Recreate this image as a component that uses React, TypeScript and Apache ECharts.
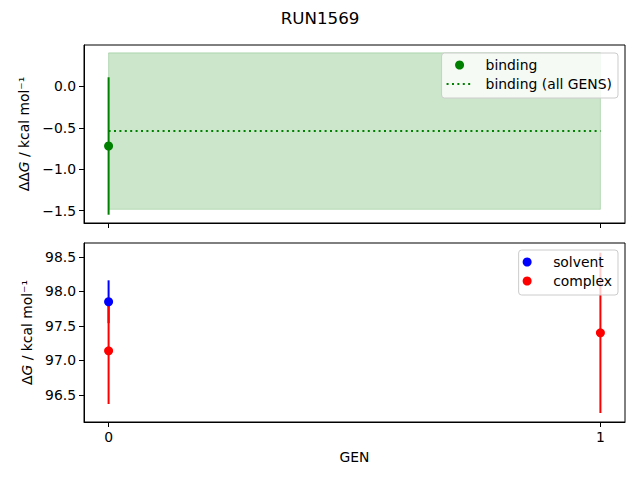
import React, { useEffect, useRef } from 'react';
import * as echarts from 'echarts';

const FONT = 'DejaVu Sans';

// x ticks (GEN)
const genTicks = [0, 1];

// top panel: binding free energy per GEN
const bindingGen = [0];
const bindingValue = [-0.72];
const bindingErr = [0.83];
// binding over all GENS (mean and uncertainty band)
const bindingAllValue = -0.54;
const bindingAllErr = 0.945;
const topTicks = [-1.5, -1.0, -0.5, 0.0];

// bottom panel: solvent and complex legs
const solventGen = [0];
const solventValue = [97.85];
const solventErr = [0.31];
const complexGen = [0, 1];
const complexValue = [97.14, 97.4];
const complexErr = [0.77, 1.16];
const bottomTicks = [96.5, 97.0, 97.5, 98.0, 98.5];

const fmt = (v: number) => v.toFixed(1).replace('-', '\u2212');

const errBar = (name: string, xIdx: number, xs: number[], ys: number[], es: number[], color: string) => ({
  name,
  type: 'custom',
  xAxisIndex: xIdx,
  yAxisIndex: xIdx,
  data: xs.map((x, i) => [x, ys[i] - es[i], ys[i] + es[i]]),
  encode: { x: 0, y: [1, 2] },
  renderItem: (_p: any, api: any) => {
    const a = api.coord([api.value(0), api.value(1)]);
    const b = api.coord([api.value(0), api.value(2)]);
    return {
      type: 'line',
      shape: { x1: a[0], y1: a[1], x2: b[0], y2: b[1] },
      style: { stroke: color, lineWidth: 2 },
    };
  },
  z: 2,
});

const dots = (name: string, xIdx: number, xs: number[], ys: number[], color: string) => ({
  name,
  type: 'scatter',
  xAxisIndex: xIdx,
  yAxisIndex: xIdx,
  data: xs.map((x, i) => [x, ys[i]]),
  symbol: 'circle',
  symbolSize: 9,
  itemStyle: { color, opacity: 1 },
  z: 4,
});

const xAxisBase = (idx: number) => ({
  type: 'value',
  gridIndex: idx,
  min: -0.05,
  max: 1.05,
  axisLine: { show: true, onZero: false, lineStyle: { color: '#000', width: 1 } },
  axisTick: { show: true, length: 5, customValues: genTicks, lineStyle: { color: '#000' } },
  axisLabel: {
    show: idx === 1,
    customValues: genTicks,
    margin: 8,
    color: '#000',
    fontSize: 13.9,
    fontFamily: FONT,
    formatter: (v: number) => String(v),
  },
  splitLine: { show: false },
});

const yAxisBase = (idx: number, min: number, max: number, ticks: number[], name: string) => ({
  type: 'value',
  gridIndex: idx,
  min,
  max,
  name,
  nameLocation: 'middle',
  nameGap: 48,
  nameTextStyle: {
    color: '#000',
    fontSize: 13.9,
    fontFamily: FONT,
    rich: { i: { fontStyle: 'italic', fontSize: 13.9, fontFamily: FONT, color: '#000' } },
  },
  axisLine: { show: true, onZero: false, lineStyle: { color: '#000', width: 1 } },
  axisTick: { show: true, length: 5, customValues: ticks, lineStyle: { color: '#000' } },
  axisLabel: {
    customValues: ticks,
    margin: 8,
    color: '#000',
    fontSize: 13.9,
    fontFamily: FONT,
    formatter: (v: number) => fmt(v),
  },
  splitLine: { show: false },
});

const legendBase = {
  orient: 'vertical',
  right: 22,
  backgroundColor: 'rgba(255,255,255,0.8)',
  borderColor: '#cccccc',
  borderWidth: 1,
  borderRadius: 3,
  padding: [5, 6, 7, 4],
  itemWidth: 26,
  itemHeight: 9,
  itemGap: 5,
  textStyle: { color: '#000', fontSize: 13.9, fontFamily: FONT, padding: [0, 0, 0, 8] },
};

const App: React.FC = () => {
  const chartRef = useRef<HTMLDivElement>(null);

  useEffect(() => {
    if (!chartRef.current) return;
    const chart = echarts.init(chartRef.current, null, { renderer: 'svg' });

    const option: any = {
      animation: false,
      backgroundColor: '#fff',
      title: {
        text: 'RUN1569',
        left: 'center',
        top: 4,
        textStyle: { color: '#000', fontSize: 16.7, fontWeight: 'normal', fontFamily: FONT },
      },
      grid: [
        { left: 84, width: 541, top: 45, height: 178, show: true, borderColor: '#000', borderWidth: 1, backgroundColor: 'transparent' },
        { left: 84, width: 541, top: 243, height: 179, show: true, borderColor: '#000', borderWidth: 1, backgroundColor: 'transparent' },
      ],
      xAxis: [
        xAxisBase(0),
        { ...xAxisBase(1), name: 'GEN', nameLocation: 'middle', nameGap: 28, nameTextStyle: { color: '#000', fontSize: 13.9, fontFamily: FONT } },
      ],
      yAxis: [
        yAxisBase(0, -1.65, 0.5, topTicks, '\u0394\u0394{i|G} / kcal mol\u207B\u00B9'),
        yAxisBase(1, 96.11, 98.7, bottomTicks, '\u0394{i|G} / kcal mol\u207B\u00B9'),
      ],
      legend: [
        {
          ...legendBase,
          top: 53,
          data: [
            { name: 'binding', icon: 'circle' },
            { name: 'binding (all GENS)', itemStyle: { opacity: 0 } },
          ],
        },
        {
          ...legendBase,
          top: 250,
          data: [{ name: 'solvent', icon: 'circle' }, { name: 'complex', icon: 'circle' }],
        },
      ],
      series: [
        {
          name: 'binding (all GENS)',
          type: 'line',
          xAxisIndex: 0,
          yAxisIndex: 0,
          data: genTicks.map((g) => [g, bindingAllValue]),
          symbol: 'none',
          lineStyle: { color: 'green', width: 2, type: [2, 3.4] },
          itemStyle: { color: 'green' },
          markArea: {
            silent: true,
            itemStyle: { color: 'rgba(0,128,0,0.2)', borderColor: 'rgba(0,128,0,0.2)', borderWidth: 1 },
            data: [
              [
                { xAxis: genTicks[0], yAxis: bindingAllValue - bindingAllErr },
                { xAxis: genTicks[genTicks.length - 1], yAxis: bindingAllValue + bindingAllErr },
              ],
            ],
          },
          z: 3,
        },
        errBar('binding err', 0, bindingGen, bindingValue, bindingErr, 'green'),
        dots('binding', 0, bindingGen, bindingValue, 'green'),
        errBar('solvent err', 1, solventGen, solventValue, solventErr, 'blue'),
        errBar('complex err', 1, complexGen, complexValue, complexErr, 'red'),
        dots('solvent', 1, solventGen, solventValue, 'blue'),
        dots('complex', 1, complexGen, complexValue, 'red'),
      ],
    };

    chart.setOption(option);
    return () => {
      chart.dispose();
    };
  }, []);

  return <div ref={chartRef} style={{ width: 640, height: 480, margin: -8 }} />;
};

export default App;
